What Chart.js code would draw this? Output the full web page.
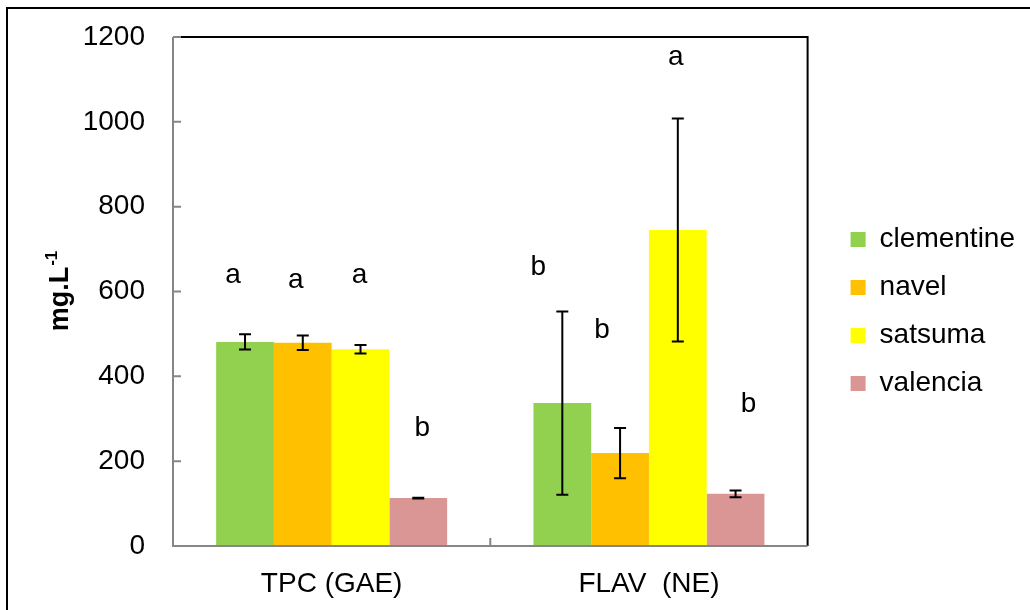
<!DOCTYPE html>
<html>
<head>
<meta charset="utf-8">
<script src="https://cdn.jsdelivr.net/npm/chart.js@4.4.0/dist/chart.umd.min.js"></script>
<style>
  html, body { margin: 0; padding: 0; background: #fff; }
  canvas { display: block; }
</style>
</head>
<body>
<canvas id="myChart" width="1030" height="610"></canvas>
<script>
// extract contents, mg/L
let categories = ['TPC (GAE)', 'FLAV  (NE)'];
let varieties = ['clementine', 'navel', 'satsuma', 'valencia'];
let colours = ['#92D050', '#FFC000', '#FFFF00', '#D99694'];

let clementine = [481, 337];
let navel = [479, 219];
let satsuma = [464, 745];
let valencia = [113, 123];

// standard deviations
let clementineSd = [18, 216];
let navelSd = [17, 59];
let satsumaSd = [10, 263];
let valenciaSd = [1, 8];

// significance letters and the height (mg/L) of their baseline
let clementineSig = ['a', 'b'];
let navelSig = ['a', 'b'];
let satsumaSig = ['a', 'a'];
let valenciaSig = ['b', 'b'];
let clementineSigAt = [620, 639];
let navelSigAt = [608, 490];
let satsumaSigAt = [620, 1134];
let valenciaSigAt = [259, 316];

let yTicks = [0, 200, 400, 600, 800, 1000, 1200];

let values = [clementine, navel, satsuma, valencia];
let sds = [clementineSd, navelSd, satsumaSd, valenciaSd];
let sigs = [clementineSig, navelSig, satsumaSig, valenciaSig];
let sigAt = [clementineSigAt, navelSigAt, satsumaSigAt, valenciaSigAt];
// letters sit a little off the bar centre (px)
let sigShift = [[-12, -24], [-7, -18], [-1, -2], [4, 13]];

const FONT = 'Arial, "Liberation Sans", sans-serif';
const AXIS_GREY = '#868686';

let chart = document.getElementById('myChart');

let extras = {
  id: 'extras',
  afterLayout(c) {
    // leave a strip between plot and legend, lift the legend a bit
    c.legend.left += 23;
    c.legend.right += 23;
    c.legend.top -= 12;
    c.legend.bottom -= 12;
  },
  afterDatasetsDraw(c) {
    let ctx = c.ctx;
    let y = c.scales.y;
    ctx.save();
    // error bars
    ctx.strokeStyle = '#000';
    ctx.lineWidth = 2;
    values.forEach((vals, i) => {
      let meta = c.getDatasetMeta(i);
      vals.forEach((v, j) => {
        let x = meta.data[j].x;
        let top = y.getPixelForValue(v + sds[i][j]);
        let bot = y.getPixelForValue(v - sds[i][j]);
        ctx.beginPath();
        ctx.moveTo(x, top); ctx.lineTo(x, bot);
        ctx.moveTo(x - 6, top); ctx.lineTo(x + 6, top);
        ctx.moveTo(x - 6, bot); ctx.lineTo(x + 6, bot);
        ctx.stroke();
      });
    });
    // significance letters
    ctx.fillStyle = '#000';
    ctx.font = '28px ' + FONT;
    ctx.textAlign = 'center';
    ctx.textBaseline = 'alphabetic';
    sigs.forEach((letters, i) => {
      let meta = c.getDatasetMeta(i);
      letters.forEach((s, j) => {
        ctx.fillText(s, meta.data[j].x + sigShift[i][j], y.getPixelForValue(sigAt[i][j]));
      });
    });
    ctx.restore();
  },
  afterDraw(c) {
    let ctx = c.ctx;
    let a = c.chartArea;
    let y = c.scales.y;
    ctx.save();
    // plot frame: black top/right, grey axes
    ctx.lineWidth = 2;
    ctx.strokeStyle = '#000';
    ctx.beginPath();
    ctx.moveTo(a.left, a.top); ctx.lineTo(a.right, a.top); ctx.lineTo(a.right, a.bottom);
    ctx.stroke();
    ctx.strokeStyle = AXIS_GREY;
    ctx.beginPath();
    ctx.moveTo(a.left, a.top); ctx.lineTo(a.left, a.bottom); ctx.lineTo(a.right, a.bottom);
    yTicks.forEach(t => {
      let py = y.getPixelForValue(t);
      ctx.moveTo(a.left, py); ctx.lineTo(a.left + 8, py);
    });
    let mid = (a.left + a.right) / 2;
    ctx.moveTo(mid, a.bottom); ctx.lineTo(mid, a.bottom - 8);
    ctx.stroke();

    // y axis title mg.L-1
    ctx.fillStyle = '#000';
    ctx.font = 'bold 27px ' + FONT;
    let w1 = ctx.measureText('mg.L').width;
    ctx.font = 'bold 17px ' + FONT;
    let w2 = ctx.measureText('-1').width;
    ctx.translate(68, (a.top + a.bottom) / 2 + (w1 + w2) / 2);
    ctx.rotate(-Math.PI / 2);
    ctx.textAlign = 'left';
    ctx.textBaseline = 'alphabetic';
    ctx.font = 'bold 27px ' + FONT;
    ctx.fillText('mg.L', 0, 0);
    ctx.font = 'bold 17px ' + FONT;
    ctx.fillText('-1', w1 + 1, -11);
    ctx.setTransform(1, 0, 0, 1, 0, 0);

    // outer frame
    ctx.strokeStyle = '#000';
    ctx.lineWidth = 2;
    ctx.strokeRect(7, 8, 1040, 620);
    ctx.restore();
  }
};

let config = {
  type: 'bar',
  data: {
    labels: categories,
    datasets: varieties.map((name, i) => ({
      label: name,
      data: values[i],
      backgroundColor: colours[i],
      borderWidth: 0,
      categoryPercentage: 0.728,
      barPercentage: 1.0
    }))
  },
  options: {
    responsive: false,
    animation: false,
    devicePixelRatio: 1,
    layout: { padding: { left: 0, top: 37, right: 28, bottom: 0 } },
    plugins: {
      legend: {
        position: 'right',
        labels: {
          boxWidth: 15,
          boxHeight: 15,
          padding: 20,
          color: '#000',
          font: { family: FONT, size: 28 }
        }
      },
      tooltip: { enabled: false }
    },
    scales: {
      x: {
        grid: { display: false, drawTicks: false },
        border: { display: false },
        ticks: { color: '#000', padding: 21, font: { family: FONT, size: 28 } },
        afterFit(s) { s.height = 64; s.paddingLeft = 0; s.paddingRight = 0; }
      },
      y: {
        min: 0,
        max: 1200,
        grid: { display: false, drawTicks: false },
        border: { display: false },
        ticks: {
          stepSize: 200,
          color: '#000',
          padding: 28,
          font: { family: FONT, size: 28 },
          callback: v => String(v)
        },
        afterFit(s) { s.width = 173; s.paddingTop = 0; s.paddingBottom = 0; }
      }
    }
  },
  plugins: [extras]
};

var myChart = new Chart(chart, config);
</script>
</body>
</html>
